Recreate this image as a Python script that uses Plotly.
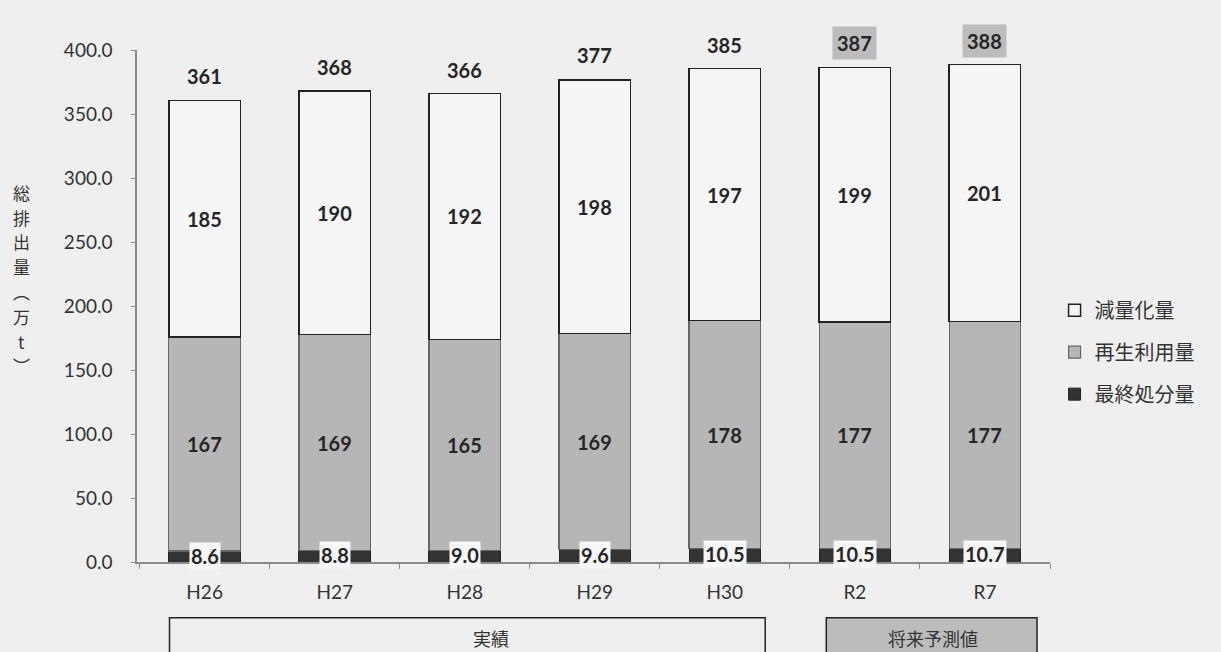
import plotly.graph_objects as go

# 年度別の排出量内訳（万t）
years = ["H26", "H27", "H28", "H29", "H30", "R2", "R7"]
final_disposal = [8.6, 8.8, 9.0, 9.6, 10.5, 10.5, 10.7]   # 最終処分量
recycled = [167, 169, 165, 169, 178, 177, 177]            # 再生利用量
reduced = [185, 190, 192, 198, 197, 199, 201]             # 減量化量
totals = [361, 368, 366, 377, 385, 387, 388]              # 総排出量
forecast_years = ["R2", "R7"]

BG = "#efefef"
JP = "Noto Sans CJK JP"
NUM = "Lato, 'Open Sans', sans-serif"
TXT = "#262626"

fig = go.Figure()
fig.add_bar(
    x=years, y=final_disposal, name="最終処分量", legendgroup="c", legendrank=3,
    marker=dict(color="#333333", line=dict(color="#222222", width=1)),
)
fig.add_bar(
    x=years, y=recycled, name="再生利用量", legendgroup="b", legendrank=2,
    marker=dict(color="#b6b6b6", line=dict(color="#666666", width=1.2)),
)
fig.add_bar(
    x=years, y=reduced, name="減量化量", legendgroup="a", legendrank=1,
    marker=dict(color="#f5f5f5", line=dict(color="#222222", width=1.5)),
)

annotations = []
bold = dict(family=NUM, size=20, color=TXT, weight="bold")

for i, yr in enumerate(years):
    # 各区分の中央に値を表示
    annotations.append(dict(
        x=yr, y=final_disposal[i] / 2, text=f"{final_disposal[i]:.1f}",
        showarrow=False, font=bold, bgcolor="#f6f6f6", borderpad=1,
        yshift=1,
    ))
    annotations.append(dict(
        x=yr, y=final_disposal[i] + recycled[i] / 2, text=str(recycled[i]),
        showarrow=False, font=bold,
    ))
    annotations.append(dict(
        x=yr, y=final_disposal[i] + recycled[i] + reduced[i] / 2,
        text=str(reduced[i]), showarrow=False, font=bold,
    ))
    # 総排出量（予測値は網掛け）
    is_fc = yr in forecast_years
    annotations.append(dict(
        x=yr, y=totals[i], text=str(totals[i]), showarrow=False, font=bold,
        yshift=24, bgcolor="#bcbcbc" if is_fc else None,
        borderpad=4 if is_fc else 0,
    ))

# 縦書きの軸タイトル（1文字ずつ縦に並べる）
title_chars = ["総", "排", "出", "量", "︵", "万", "t", "︶"]
step = 24.8
center_px = 279
for k, ch in enumerate(title_chars):
    py = center_px + (k - (len(title_chars) - 1) / 2) * step
    annotations.append(dict(
        xref="paper", yref="paper", x=-0.126, y=(562 - py) / 512,
        xanchor="center", yanchor="middle", showarrow=False, text=ch,
        font=dict(family=JP, size=17, color="#333333"),
    ))

# 実績・将来予測値の区分ラベル
annotations.append(dict(
    x=2.2, y=-0.148, xref="x", yref="paper", text="実績", showarrow=False,
    yanchor="middle", font=dict(family=JP, size=18, color="#333333"),
))
annotations.append(dict(
    x=5.6, y=-0.148, xref="x", yref="paper", text="将来予測値", showarrow=False,
    yanchor="middle", font=dict(family=JP, size=18, color="#333333"),
))

shapes = [
    dict(type="rect", xref="x", yref="paper", x0=-0.27, x1=4.31,
         y0=-0.109, y1=-0.25, line=dict(color="#222222", width=1.5),
         fillcolor="rgba(0,0,0,0)", layer="above"),
    dict(type="rect", xref="x", yref="paper", x0=4.78, x1=6.4,
         y0=-0.109, y1=-0.25, line=dict(color="#222222", width=1.5),
         fillcolor="#bcbcbc", layer="below"),
]

fig.update_layout(
    barmode="stack",
    bargap=0.45,
    width=1221, height=652,
    margin=dict(l=137, r=171, t=50, b=90),
    paper_bgcolor=BG, plot_bgcolor=BG,
    showlegend=True,
    legend=dict(
        x=1.005, y=0.53, xanchor="left", yanchor="top",
        traceorder="grouped", tracegroupgap=13,
        font=dict(family=JP, size=20, color="#333333"),
        bgcolor="rgba(0,0,0,0)", itemwidth=30,
    ),
    annotations=annotations,
    shapes=shapes,
    xaxis=dict(
        type="category", range=[-0.52, 6.5],
        showline=True, linecolor="#8a8a8a", linewidth=1.5,
        ticks="outside", ticklen=5, tickcolor="#8a8a8a",
        tickson="boundaries", showgrid=False, ticklabelstandoff=12,
        tickfont=dict(family=NUM, size=19, color="#333333"),
    ),
    yaxis=dict(
        range=[0, 400], dtick=50, tickformat=".1f",
        showline=True, linecolor="#8a8a8a", linewidth=1.5,
        ticks="outside", ticklen=4, tickcolor="#8a8a8a",
        showgrid=False, zeroline=False, ticklabelstandoff=15,
        tickfont=dict(family=NUM, size=19, color="#333333"),
    ),
)

fig.write_html("out.html")
